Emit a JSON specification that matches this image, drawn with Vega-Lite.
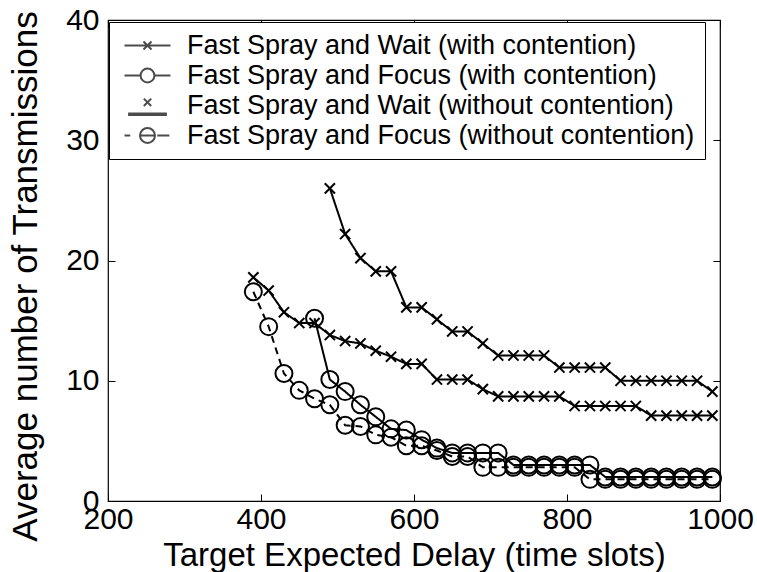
{
  "$schema": "https://vega.github.io/schema/vega-lite/v6.json",
  "width": 612,
  "height": 481,
  "autosize": {"type": "none"},
  "padding": {"left": 108, "top": 20, "right": 37, "bottom": 71},
  "background": "white",
  "config": {
    "font": "Liberation Sans",
    "view": {"stroke": "black", "strokeWidth": 1.2},
    "axis": {
      "domain": false,
      "grid": false,
      "labelColor": "black",
      "labelFont": "Liberation Sans",
      "titleFont": "Liberation Sans",
      "titleFontWeight": "normal",
      "titleColor": "black",
      "tickColor": "black",
      "tickSize": -7,
      "tickWidth": 1,
      "labelFlush": false,
      "labelOverlap": false
    }
  },
  "datasets": {
    "main": [
      {"series": "Fast Spray and Wait (with contention)", "x": 490, "y": 26.0},
      {"series": "Fast Spray and Wait (with contention)", "x": 510, "y": 22.2},
      {"series": "Fast Spray and Wait (with contention)", "x": 530, "y": 20.2},
      {"series": "Fast Spray and Wait (with contention)", "x": 550, "y": 19.1},
      {"series": "Fast Spray and Wait (with contention)", "x": 570, "y": 19.1},
      {"series": "Fast Spray and Wait (with contention)", "x": 590, "y": 16.1},
      {"series": "Fast Spray and Wait (with contention)", "x": 610, "y": 16.1},
      {"series": "Fast Spray and Wait (with contention)", "x": 630, "y": 15.1},
      {"series": "Fast Spray and Wait (with contention)", "x": 650, "y": 14.1},
      {"series": "Fast Spray and Wait (with contention)", "x": 670, "y": 14.1},
      {"series": "Fast Spray and Wait (with contention)", "x": 690, "y": 13.1},
      {"series": "Fast Spray and Wait (with contention)", "x": 710, "y": 12.1},
      {"series": "Fast Spray and Wait (with contention)", "x": 730, "y": 12.1},
      {"series": "Fast Spray and Wait (with contention)", "x": 750, "y": 12.1},
      {"series": "Fast Spray and Wait (with contention)", "x": 770, "y": 12.1},
      {"series": "Fast Spray and Wait (with contention)", "x": 790, "y": 11.1},
      {"series": "Fast Spray and Wait (with contention)", "x": 810, "y": 11.1},
      {"series": "Fast Spray and Wait (with contention)", "x": 830, "y": 11.1},
      {"series": "Fast Spray and Wait (with contention)", "x": 850, "y": 11.1},
      {"series": "Fast Spray and Wait (with contention)", "x": 870, "y": 10.0},
      {"series": "Fast Spray and Wait (with contention)", "x": 890, "y": 10.0},
      {"series": "Fast Spray and Wait (with contention)", "x": 910, "y": 10.0},
      {"series": "Fast Spray and Wait (with contention)", "x": 930, "y": 10.0},
      {"series": "Fast Spray and Wait (with contention)", "x": 950, "y": 10.0},
      {"series": "Fast Spray and Wait (with contention)", "x": 970, "y": 10.0},
      {"series": "Fast Spray and Wait (with contention)", "x": 990, "y": 9.1},

      {"series": "Fast Spray and Focus (with contention)", "x": 470, "y": 15.2},
      {"series": "Fast Spray and Focus (with contention)", "x": 490, "y": 10.1},
      {"series": "Fast Spray and Focus (with contention)", "x": 510, "y": 9.1},
      {"series": "Fast Spray and Focus (with contention)", "x": 530, "y": 8.0},
      {"series": "Fast Spray and Focus (with contention)", "x": 550, "y": 7.0},
      {"series": "Fast Spray and Focus (with contention)", "x": 570, "y": 6.0},
      {"series": "Fast Spray and Focus (with contention)", "x": 590, "y": 5.9},
      {"series": "Fast Spray and Focus (with contention)", "x": 610, "y": 5.1},
      {"series": "Fast Spray and Focus (with contention)", "x": 630, "y": 4.4},
      {"series": "Fast Spray and Focus (with contention)", "x": 650, "y": 4.0},
      {"series": "Fast Spray and Focus (with contention)", "x": 670, "y": 4.0},
      {"series": "Fast Spray and Focus (with contention)", "x": 690, "y": 4.0},
      {"series": "Fast Spray and Focus (with contention)", "x": 710, "y": 4.0},
      {"series": "Fast Spray and Focus (with contention)", "x": 730, "y": 3.0},
      {"series": "Fast Spray and Focus (with contention)", "x": 750, "y": 3.0},
      {"series": "Fast Spray and Focus (with contention)", "x": 770, "y": 3.0},
      {"series": "Fast Spray and Focus (with contention)", "x": 790, "y": 3.0},
      {"series": "Fast Spray and Focus (with contention)", "x": 810, "y": 3.0},
      {"series": "Fast Spray and Focus (with contention)", "x": 830, "y": 3.0},
      {"series": "Fast Spray and Focus (with contention)", "x": 850, "y": 2.0},
      {"series": "Fast Spray and Focus (with contention)", "x": 870, "y": 2.0},
      {"series": "Fast Spray and Focus (with contention)", "x": 890, "y": 2.0},
      {"series": "Fast Spray and Focus (with contention)", "x": 910, "y": 2.0},
      {"series": "Fast Spray and Focus (with contention)", "x": 930, "y": 2.0},
      {"series": "Fast Spray and Focus (with contention)", "x": 950, "y": 2.0},
      {"series": "Fast Spray and Focus (with contention)", "x": 970, "y": 2.0},
      {"series": "Fast Spray and Focus (with contention)", "x": 990, "y": 2.0},

      {"series": "Fast Spray and Wait (without contention)", "x": 390, "y": 18.6},
      {"series": "Fast Spray and Wait (without contention)", "x": 410, "y": 17.5},
      {"series": "Fast Spray and Wait (without contention)", "x": 430, "y": 15.7},
      {"series": "Fast Spray and Wait (without contention)", "x": 450, "y": 14.8},
      {"series": "Fast Spray and Wait (without contention)", "x": 470, "y": 14.8},
      {"series": "Fast Spray and Wait (without contention)", "x": 490, "y": 13.8},
      {"series": "Fast Spray and Wait (without contention)", "x": 510, "y": 13.3},
      {"series": "Fast Spray and Wait (without contention)", "x": 530, "y": 13.1},
      {"series": "Fast Spray and Wait (without contention)", "x": 550, "y": 12.5},
      {"series": "Fast Spray and Wait (without contention)", "x": 570, "y": 12.0},
      {"series": "Fast Spray and Wait (without contention)", "x": 590, "y": 11.4},
      {"series": "Fast Spray and Wait (without contention)", "x": 610, "y": 11.4},
      {"series": "Fast Spray and Wait (without contention)", "x": 630, "y": 10.1},
      {"series": "Fast Spray and Wait (without contention)", "x": 650, "y": 10.1},
      {"series": "Fast Spray and Wait (without contention)", "x": 670, "y": 10.1},
      {"series": "Fast Spray and Wait (without contention)", "x": 690, "y": 9.3},
      {"series": "Fast Spray and Wait (without contention)", "x": 710, "y": 8.7},
      {"series": "Fast Spray and Wait (without contention)", "x": 730, "y": 8.7},
      {"series": "Fast Spray and Wait (without contention)", "x": 750, "y": 8.7},
      {"series": "Fast Spray and Wait (without contention)", "x": 770, "y": 8.7},
      {"series": "Fast Spray and Wait (without contention)", "x": 790, "y": 8.7},
      {"series": "Fast Spray and Wait (without contention)", "x": 810, "y": 7.9},
      {"series": "Fast Spray and Wait (without contention)", "x": 830, "y": 7.9},
      {"series": "Fast Spray and Wait (without contention)", "x": 850, "y": 7.9},
      {"series": "Fast Spray and Wait (without contention)", "x": 870, "y": 7.9},
      {"series": "Fast Spray and Wait (without contention)", "x": 890, "y": 7.9},
      {"series": "Fast Spray and Wait (without contention)", "x": 910, "y": 7.1},
      {"series": "Fast Spray and Wait (without contention)", "x": 930, "y": 7.1},
      {"series": "Fast Spray and Wait (without contention)", "x": 950, "y": 7.1},
      {"series": "Fast Spray and Wait (without contention)", "x": 970, "y": 7.1},
      {"series": "Fast Spray and Wait (without contention)", "x": 990, "y": 7.1},

      {"series": "Fast Spray and Focus (without contention)", "x": 390, "y": 17.4},
      {"series": "Fast Spray and Focus (without contention)", "x": 410, "y": 14.5},
      {"series": "Fast Spray and Focus (without contention)", "x": 430, "y": 10.6},
      {"series": "Fast Spray and Focus (without contention)", "x": 450, "y": 9.2},
      {"series": "Fast Spray and Focus (without contention)", "x": 470, "y": 8.5},
      {"series": "Fast Spray and Focus (without contention)", "x": 490, "y": 8.0},
      {"series": "Fast Spray and Focus (without contention)", "x": 510, "y": 6.3},
      {"series": "Fast Spray and Focus (without contention)", "x": 530, "y": 6.2},
      {"series": "Fast Spray and Focus (without contention)", "x": 550, "y": 5.5},
      {"series": "Fast Spray and Focus (without contention)", "x": 570, "y": 5.3},
      {"series": "Fast Spray and Focus (without contention)", "x": 590, "y": 4.6},
      {"series": "Fast Spray and Focus (without contention)", "x": 610, "y": 4.6},
      {"series": "Fast Spray and Focus (without contention)", "x": 630, "y": 4.2},
      {"series": "Fast Spray and Focus (without contention)", "x": 650, "y": 3.7},
      {"series": "Fast Spray and Focus (without contention)", "x": 670, "y": 3.7},
      {"series": "Fast Spray and Focus (without contention)", "x": 690, "y": 2.8},
      {"series": "Fast Spray and Focus (without contention)", "x": 710, "y": 2.8},
      {"series": "Fast Spray and Focus (without contention)", "x": 730, "y": 2.8},
      {"series": "Fast Spray and Focus (without contention)", "x": 750, "y": 2.8},
      {"series": "Fast Spray and Focus (without contention)", "x": 770, "y": 2.8},
      {"series": "Fast Spray and Focus (without contention)", "x": 790, "y": 2.8},
      {"series": "Fast Spray and Focus (without contention)", "x": 810, "y": 2.8},
      {"series": "Fast Spray and Focus (without contention)", "x": 830, "y": 1.8},
      {"series": "Fast Spray and Focus (without contention)", "x": 850, "y": 1.8},
      {"series": "Fast Spray and Focus (without contention)", "x": 870, "y": 1.8},
      {"series": "Fast Spray and Focus (without contention)", "x": 890, "y": 1.8},
      {"series": "Fast Spray and Focus (without contention)", "x": 910, "y": 1.8},
      {"series": "Fast Spray and Focus (without contention)", "x": 930, "y": 1.8},
      {"series": "Fast Spray and Focus (without contention)", "x": 950, "y": 1.8},
      {"series": "Fast Spray and Focus (without contention)", "x": 970, "y": 1.8},
      {"series": "Fast Spray and Focus (without contention)", "x": 990, "y": 1.8}
    ]
  },
  "data": {"name": "main"},
  "layer": [
    {
      "mark": {"type": "line", "stroke": "black", "strokeWidth": 2},
      "encoding": {
        "x": {
          "field": "x", "type": "quantitative",
          "scale": {"domain": [200, 1000], "nice": false, "zero": false},
          "axis": {
            "orient": "bottom", "values": [200, 400, 600, 800, 1000], "format": "d",
            "labelFontSize": 30, "labelPadding": 10,
            "title": "Target Expected Delay (time slots)",
            "titleFontSize": 33, "titleX": 306, "titleY": 64, "titleBaseline": "alphabetic"
          }
        },
        "y": {
          "field": "y", "type": "quantitative",
          "scale": {"domain": [0, 40], "nice": false, "zero": false},
          "axis": {
            "orient": "left", "values": [0, 10, 20, 30, 40],
            "labelFontSize": 30, "labelPadding": 16,
            "title": "Average number of Transmissions",
            "titleFontSize": 35, "titleX": -72, "titleY": 256, "titleBaseline": "alphabetic"
          }
        },
        "strokeDash": {
          "field": "series", "type": "nominal",
          "scale": {
            "domain": ["Fast Spray and Wait (with contention)", "Fast Spray and Focus (with contention)", "Fast Spray and Wait (without contention)", "Fast Spray and Focus (without contention)"],
            "range": [[1, 0], [1, 0], [1, 0], [7, 5]]
          },
          "legend": null
        },
        "order": {"field": "x", "type": "quantitative"}
      }
    },
    {
      "mark": {"type": "point", "filled": false, "stroke": "black", "strokeWidth": 2, "size": 289, "opacity": 1},
      "encoding": {
        "x": {
          "field": "x", "type": "quantitative",
          "axis": {"orient": "top", "values": [200, 400, 600, 800, 1000], "labels": false, "title": null}
        },
        "y": {
          "field": "y", "type": "quantitative",
          "axis": {"orient": "right", "values": [0, 10, 20, 30, 40], "labels": false, "title": null}
        },
        "shape": {
          "field": "series", "type": "nominal",
          "scale": {
            "domain": ["Fast Spray and Wait (with contention)", "Fast Spray and Focus (with contention)", "Fast Spray and Wait (without contention)", "Fast Spray and Focus (without contention)"],
            "range": ["M-0.6,-0.6L0.6,0.6M-0.6,0.6L0.6,-0.6", "circle", "M-0.6,-0.6L0.6,0.6M-0.6,0.6L0.6,-0.6", "circle"]
          },
          "legend": null
        }
      }
    },
    {
      "transform": [{"filter": "datum.x < 0"}],
      "mark": {"type": "point", "filled": false, "stroke": "black", "strokeWidth": 2, "size": 529},
      "encoding": {
        "shape": {
          "field": "series", "type": "nominal",
          "scale": {
            "domain": ["Fast Spray and Wait (with contention)", "Fast Spray and Focus (with contention)", "Fast Spray and Wait (without contention)", "Fast Spray and Focus (without contention)"],
            "range": [
              "M-2,0L2,0M-0.35,-0.35L0.35,0.35M-0.35,0.35L0.35,-0.35",
              "M-2,0L-0.6,0M0.6,0L2,0M-0.6,0A0.6,0.6 0 1,0 0.6,0A0.6,0.6 0 1,0 -0.6,0",
              "M-0.32,-0.6L0.32,0.05M-0.32,0.05L0.32,-0.6M-1.6,0.7L1.6,0.7L1.6,0.82L-1.6,0.82Z",
              "M-2,0L-1.5,0M-0.65,0L0.65,0M0.85,0L1.9,0M-0.65,0A0.65,0.65 0 1,0 0.65,0A0.65,0.65 0 1,0 -0.65,0"
            ]
          },
          "legend": {
            "orient": "none", "legendX": 1, "legendY": 2,
            "title": null,
            "strokeColor": "black", "fillColor": "white",
            "padding": 10,
            "labelFont": "Liberation Sans", "labelFontSize": 27, "labelColor": "black", "labelLimit": 1000,
            "symbolSize": 529, "symbolStrokeWidth": 2, "symbolStrokeColor": "black", "symbolFillColor": "transparent",
            "symbolOffset": 15, "labelOffset": 26, "rowPadding": 2
          }
        }
      }
    }
  ],
  "resolve": {
    "scale": {"shape": "independent"},
    "axis": {"x": "independent", "y": "independent"}
  }
}
